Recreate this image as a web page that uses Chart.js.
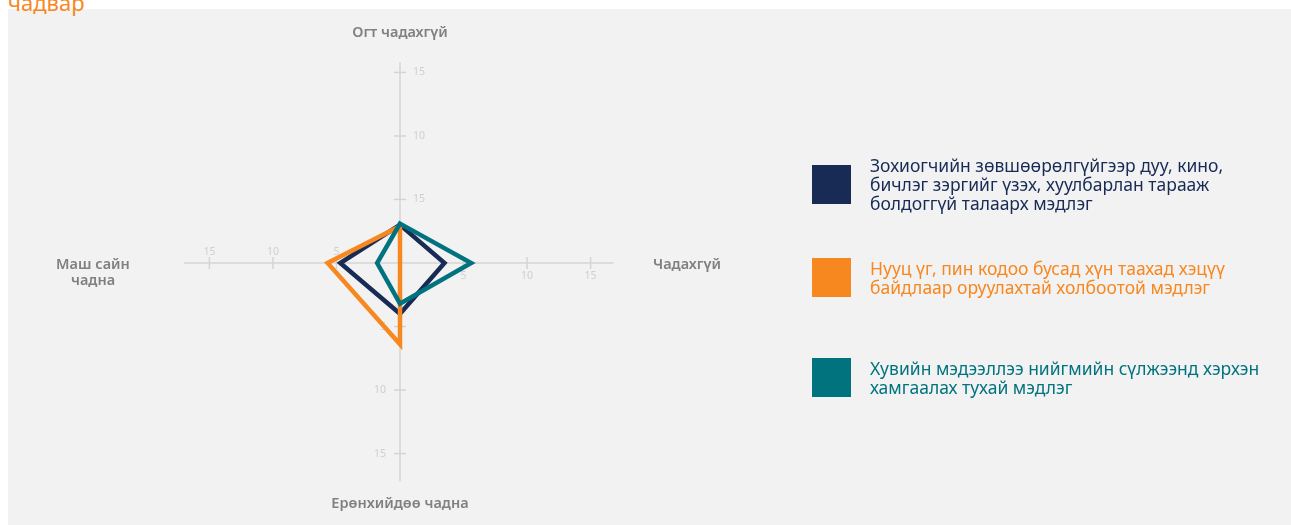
<!DOCTYPE html>
<html>
<head>
<meta charset="utf-8">
<script src="https://cdn.jsdelivr.net/npm/chart.js@4/dist/chart.umd.min.js"></script>
<style>
  html, body { margin: 0; padding: 0; background: #fff; overflow: hidden; }
  body { width: 1291px; height: 525px; position: relative; font-family: "Noto Sans", sans-serif; }
  .panel { position: absolute; left: 8px; top: 9px; width: 1283px; height: 516px; background: #f2f2f2; }
  .title { position: absolute; left: 8px; top: -9px; font-size: 22px; line-height: 22px; color: #f7871f; }
  #radar { position: absolute; left: 0; top: 0; }
  #legend { position: absolute; left: 812px; top: 156px; }
  .item { display: flex; align-items: center; }
  .item:nth-child(1) { margin-bottom: 45px; }
  .item:nth-child(2) { margin-bottom: 61px; }
  .box { width: 39px; height: 39px; flex: none; margin-right: 19px; }
  .txt { font-size: 17.5px; line-height: 19px; white-space: pre-line; }
</style>
</head>
<body>
<div class="panel"></div>
<div class="title">чадвар</div>
<canvas id="radar" width="1291" height="525"></canvas>
<div id="legend"></div>

<script>
// оси: дээрээс эхлээд цагийн зүүний дагуу
const axisLabels = ['Огт чадахгүй', 'Чадахгүй', 'Ерөнхийдөө чадна', ['Маш сайн', 'чадна']];

const seriesNames = [
  'Зохиогчийн зөвшөөрөлгүйгээр дуу, кино,\nбичлэг зэргийг үзэх, хуулбарлан тарааж\nболдоггүй талаарх мэдлэг',
  'Нууц үг, пин кодоо бусад хүн таахад хэцүү\nбайдлаар оруулахтай холбоотой мэдлэг',
  'Хувийн мэдээллээ нийгмийн сүлжээнд хэрхэн\nхамгаалах тухай мэдлэг'
];
const seriesColors = ['#172b55', '#f7871f', '#00737f'];

const copyrightValues = [3.0, 3.5, 4.0, 4.7];
const passwordValues = [2.9, 0, 6.4, 5.7];
const privacyValues = [3.1, 5.6, 3.2, 1.8];

// тэнхлэг бүр дээрх хуваарийн утга ба бичвэр
const tickValues = [5, 10, 15];
const tickLabels = [
  ['15', '10', '15'],
  ['5', '10', '15'],
  ['5', '10', '15'],
  ['5', '10', '15']
];
const axisEnds = [15.8, 16.8, 17.2, 17.0];

// legend
const legendEl = document.getElementById('legend');
seriesNames.forEach((name, i) => {
  const item = document.createElement('div');
  item.className = 'item';
  item.innerHTML = '<div class="box" style="background:' + seriesColors[i] + '"></div>' +
    '<div class="txt" style="color:' + seriesColors[i] + '">' + name + '</div>';
  legendEl.appendChild(item);
});

// тэнхлэг, хуваарь, тэнхлэгийн нэрийг зурна
const crossAxes = {
  id: 'crossAxes',
  beforeDatasetsDraw(chart) {
    const r = chart.scales.r;
    const ctx = chart.ctx;
    const c = r.getPointPositionForValue(0, 0);
    ctx.save();
    ctx.strokeStyle = '#d4d4d4';
    ctx.lineWidth = 1.5;
    for (let i = 0; i < 4; i++) {
      const p = r.getPointPositionForValue(i, axisEnds[i]);
      ctx.beginPath();
      ctx.moveTo(c.x, c.y);
      ctx.lineTo(p.x, p.y);
      ctx.stroke();
    }
    ctx.font = '10.5px "Noto Sans"';
    ctx.fillStyle = '#cfcfcf';
    for (let i = 0; i < 4; i++) {
      const vertical = (i % 2 === 0);
      tickValues.forEach((v, k) => {
        const p = r.getPointPositionForValue(i, v);
        ctx.beginPath();
        if (vertical) { ctx.moveTo(p.x - 6, p.y); ctx.lineTo(p.x + 6, p.y); }
        else { ctx.moveTo(p.x, p.y - 6); ctx.lineTo(p.x, p.y + 6); }
        ctx.stroke();
        const t = tickLabels[i][k];
        ctx.textBaseline = 'middle';
        if (i === 0) { ctx.textAlign = 'left'; ctx.fillText(t, p.x + 13, p.y); }
        else if (i === 1) { ctx.textAlign = 'center'; ctx.fillText(t, p.x, p.y + 13); }
        else if (i === 2) { ctx.textAlign = 'right'; ctx.fillText(t, p.x - 14, p.y); }
        else { ctx.textAlign = 'center'; ctx.fillText(t, p.x, p.y - 11); }
      });
    }
    ctx.restore();
  },
  afterDraw(chart) {
    const r = chart.scales.r;
    const ctx = chart.ctx;
    const place = [
      { d: 230, align: 'center', dy: 0 },
      { d: 253, align: 'left', dy: 2 },
      { d: 241, align: 'center', dy: 0 },
      { d: 307, align: 'center', dy: 10 }
    ];
    ctx.save();
    ctx.font = '600 14.5px "Noto Sans"';
    ctx.fillStyle = '#808080';
    ctx.textBaseline = 'middle';
    axisLabels.forEach((lab, i) => {
      const p = r.getPointPosition(i, place[i].d);
      const lines = Array.isArray(lab) ? lab : [lab];
      ctx.textAlign = place[i].align;
      const y0 = p.y + place[i].dy - (lines.length - 1) * 16 / 2;
      lines.forEach((ln, j) => ctx.fillText(ln, p.x, y0 + j * 16));
    });
    ctx.restore();
  }
};

const ctx = document.getElementById('radar').getContext('2d');
new Chart(ctx, {
  type: 'radar',
  data: {
    labels: axisLabels,
    datasets: [
      { label: seriesNames[0], data: copyrightValues, borderColor: seriesColors[0], order: 2 },
      { label: seriesNames[1], data: passwordValues, borderColor: seriesColors[1], order: 1 },
      { label: seriesNames[2], data: privacyValues, borderColor: seriesColors[2], order: 0 }
    ]
  },
  options: {
    responsive: false,
    animation: false,
    layout: { padding: { left: 184, right: 675, top: 47, bottom: 46 } },
    elements: {
      line: { borderWidth: 4.5, fill: false, tension: 0, borderJoinStyle: 'miter' },
      point: { radius: 0, hoverRadius: 0 }
    },
    plugins: { legend: { display: false }, tooltip: { enabled: false } },
    scales: {
      r: {
        min: 0,
        max: 17,
        grid: { display: false },
        angleLines: { display: false },
        ticks: { display: false },
        pointLabels: { display: false }
      }
    }
  },
  plugins: [crossAxes]
});
</script>
</body>
</html>
